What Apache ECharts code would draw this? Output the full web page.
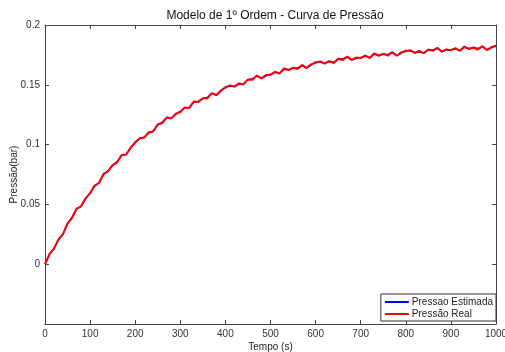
<!DOCTYPE html>
<html>
<head>
<meta charset="utf-8">
<script src="https://cdn.jsdelivr.net/npm/echarts@6/dist/echarts.min.js"></script>
<style>html,body{margin:0;padding:0;background:#fff}#c{width:505px;height:352px}</style>
</head>
<body>
<div id="c"></div>
<script>
const timeS = [0,10,20,30,40,50,60,70,80,90,100,110,120,130,140,150,160,170,180,190,200,210,220,230,240,250,260,270,280,290,300,310,320,330,340,350,360,370,380,390,400,410,420,430,440,450,460,470,480,490,500,510,520,530,540,550,560,570,580,590,600,610,620,630,640,650,660,670,680,690,700,710,720,730,740,750,760,770,780,790,800,810,820,830,840,850,860,870,880,890,900,910,920,930,940,950,960,970,980,990,1000];
const pressaoReal = [0.0000,0.0086,0.0130,0.0210,0.0251,0.0341,0.0385,0.0464,0.0484,0.0552,0.0592,0.0657,0.0679,0.0757,0.0777,0.0830,0.0850,0.0914,0.0917,0.0976,0.1017,0.1053,0.1059,0.1104,0.1110,0.1168,0.1180,0.1228,0.1219,0.1259,0.1272,0.1311,0.1307,0.1361,0.1357,0.1388,0.1387,0.1431,0.1413,0.1453,0.1476,0.1495,0.1484,0.1512,0.1503,0.1545,0.1542,0.1577,0.1554,0.1581,0.1582,0.1609,0.1593,0.1637,0.1623,0.1643,0.1632,0.1666,0.1640,0.1671,0.1685,0.1696,0.1677,0.1699,0.1682,0.1717,0.1708,0.1736,0.1708,0.1728,0.1723,0.1745,0.1724,0.1762,0.1743,0.1759,0.1744,0.1774,0.1743,0.1771,0.1781,0.1788,0.1766,0.1784,0.1763,0.1796,0.1784,0.1809,0.1777,0.1796,0.1788,0.1807,0.1784,0.1820,0.1799,0.1812,0.1795,0.1823,0.1790,0.1816,0.1824];
const pressaoEstimada = [0.0000,0.0081,0.0133,0.0203,0.0255,0.0339,0.0393,0.0460,0.0485,0.0546,0.0598,0.0652,0.0682,0.0750,0.0781,0.0828,0.0858,0.0910,0.0918,0.0970,0.1023,0.1048,0.1062,0.1097,0.1114,0.1166,0.1188,0.1224,0.1220,0.1253,0.1278,0.1306,0.1310,0.1354,0.1361,0.1386,0.1395,0.1427,0.1414,0.1447,0.1482,0.1490,0.1487,0.1505,0.1507,0.1543,0.1550,0.1573,0.1555,0.1575,0.1588,0.1604,0.1596,0.1630,0.1627,0.1641,0.1640,0.1662,0.1641,0.1665,0.1691,0.1691,0.1680,0.1692,0.1686,0.1715,0.1716,0.1732,0.1709,0.1722,0.1729,0.1740,0.1727,0.1755,0.1747,0.1757,0.1752,0.1770,0.1744,0.1765,0.1787,0.1783,0.1769,0.1777,0.1767,0.1794,0.1792,0.1805,0.1778,0.1790,0.1794,0.1802,0.1787,0.1813,0.1803,0.1810,0.1803,0.1819,0.1791,0.1810,0.1830];
const yTickLabels = {'0.2':'0.2','0.15':'0.15','0.1':'0.1','0.05':'0.05','0':'0'};

const FONT = '"Liberation Sans", Arial, sans-serif';
const AX = '#444';
const chart = echarts.init(document.getElementById('c'), null, {renderer:'canvas'});
const pairs = arr => arr.map((v,i)=>[timeS[i], v]);
const tickStyle = {show:true, inside:true, length:4, lineStyle:{color:AX}};
chart.setOption({
  animation:false,
  backgroundColor:'#fff',
  title:{text:'Modelo de 1º Ordem - Curva de Pressão', left:270, top:5, textAlign:'center',
    textStyle:{fontFamily:FONT, fontSize:12, fontWeight:'normal', color:'#111'}},
  grid:{left:45, right:9, top:25, bottom:28, containLabel:false, outerBoundsMode:'none'},
  legend:{orient:'vertical', right:9, bottom:31, backgroundColor:'#fff', borderColor:'#333', borderWidth:1,
    padding:[3,3,2,4], itemGap:2, itemWidth:24, itemHeight:2, icon:'rect',
    textStyle:{fontFamily:FONT, fontSize:10, color:'#222', padding:[0,0,0,-2]},
    data:['Pressao Estimada','Pressão Real']},
  xAxis:[{type:'value', min:0, max:1000, interval:100, name:'Tempo (s)', nameLocation:'middle', nameGap:18, nameMoveOverlap:false,
    nameTextStyle:{fontFamily:FONT, fontSize:10, color:'#222'},
    axisLine:{onZero:false, lineStyle:{color:AX}}, axisTick:tickStyle, splitLine:{show:false},
    axisLabel:{fontFamily:FONT, fontSize:10, color:'#333', margin:5, formatter:v=>String(v)}},
    {type:'value', position:'top', min:0, max:1000, interval:100, axisLine:{show:true,onZero:false,lineStyle:{color:AX}},
    axisTick:tickStyle, axisLabel:{show:false}, splitLine:{show:false}}],
  yAxis:[{type:'value', min:-0.05, max:0.2, interval:0.05, name:'Pressão(bar)', nameLocation:'middle', nameGap:26, nameMoveOverlap:false,
    nameTextStyle:{fontFamily:FONT, fontSize:10, color:'#222'},
    axisLine:{show:true, onZero:false, lineStyle:{color:AX}}, axisTick:tickStyle, splitLine:{show:false},
    axisLabel:{fontFamily:FONT, fontSize:10, color:'#333', margin:5,
      formatter:v=>{const k=String(Math.round(v*100)/100); return yTickLabels[k]!==undefined?yTickLabels[k]:'';}}},
    {type:'value', position:'right', min:-0.05, max:0.2, interval:0.05, axisLine:{show:true,onZero:false,lineStyle:{color:AX}},
    axisTick:tickStyle, axisLabel:{show:false}, splitLine:{show:false}}],
  series:[
    {name:'Pressao Estimada', type:'line', data:pairs(pressaoEstimada), symbol:'none', lineStyle:{color:'#0000ff', width:1.5}, itemStyle:{color:'#0000ff'}},
    {name:'Pressão Real', type:'line', data:pairs(pressaoReal), symbol:'none', lineStyle:{color:'#ff0000', width:2}, itemStyle:{color:'#ff0000'}}
  ]
});
</script>
</body>
</html>
